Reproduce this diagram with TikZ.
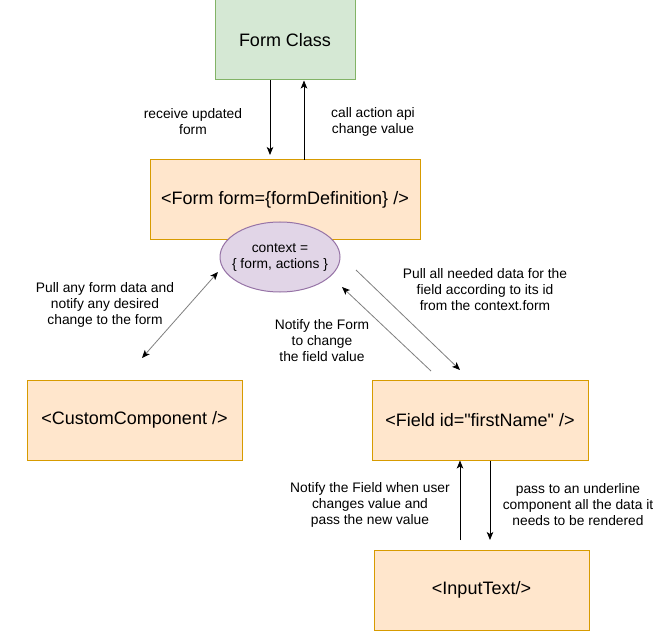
\documentclass[tikz,border=0pt]{standalone}
\usepackage{fontspec}
\setmainfont{Liberation Sans}[Ligatures=TeXOff]
\usetikzlibrary{shapes.geometric,arrows.meta}
\definecolor{gfill}{HTML}{D5E8D4}
\definecolor{gline}{HTML}{82B366}
\definecolor{ofill}{HTML}{FFE6CC}
\definecolor{oline}{HTML}{D79B00}
\definecolor{pfill}{HTML}{E1D5E7}
\definecolor{pline}{HTML}{9673A6}
\definecolor{diag}{HTML}{7F7F7F}
\tikzset{
  box/.style={draw=#1, line width=1pt, minimum width=215pt, minimum height=80pt, inner sep=0pt,
    font=\fontsize{18}{21}\selectfont},
  lbl/.style={align=center, inner sep=0pt, font=\fontsize{13.8}{16}\selectfont},
  tip/.style={-{Stealth[length=8pt,width=6.5pt,inset=2pt,black]}},
  conn/.style={tip, line width=0.9pt, black},
  dconn/.style={line width=0.8pt, draw=diag},
}
\begin{document}
\begin{tikzpicture}[x=1pt,y=-1pt]
\useasboundingbox (0,0) rectangle (664,631);
% boxes
\node[box=gline, fill=gfill, minimum width=140pt] (fc) at (285,40) {Form Class};
\node[box=oline, fill=ofill, minimum width=270pt] (form) at (285,200) {<Form form=\{formDefinition\} />};
\node[ellipse, draw=pline, fill=pfill, line width=1pt, minimum width=120pt, minimum height=70pt, inner sep=0pt,
  label={[lbl]center:context =\\\{ form, actions \}}] (ctx) at (280,257) {};
\node[box=oline, fill=ofill] (cc) at (134.5,420) {<CustomComponent />};
\node[box=oline, fill=ofill, minimum width=216pt] (field) at (480,420) {<Field id="firstName" />};
\node[box=oline, fill=ofill] (input) at (481.5,590) {<InputText/>};
% coordinates
\coordinate (d1) at (270,155);
\coordinate (u1) at (304,160);
\coordinate (cA) at (142,358);
\coordinate (cB) at (218,272);
\coordinate (fA) at (356,270);
\coordinate (fB) at (460,370);
\coordinate (gA) at (431,371);
\coordinate (gB) at (342,287);
\coordinate (iU) at (460,540);
\coordinate (iD) at (490,470);
\coordinate (iE) at (490,540);
% connectors
\draw[conn] (fc.south -| d1) -- (d1);
\draw[conn] (u1) -- (fc.south -| u1);
\draw[dconn, {Stealth[length=8pt,width=6.5pt,inset=2pt,black]}-{Stealth[length=8pt,width=6.5pt,inset=2pt,black]}] (cA) -- (cB);
\draw[dconn, tip] (fA) -- (fB);
\draw[dconn, tip] (gA) -- (gB);
\draw[conn] (iU) -- (field.south -| iU);
\draw[conn] (field.south -| iD) -- (iE);
% labels
\node[lbl] (l1) at (193,122) {receive updated\\form};
\node[lbl] (l2) at (373,122) {call action api\\change value};
\node[lbl] (l3) at (105,305) {Pull any form data and\\notify any desired\\change to the form};
\node[lbl] (l4) at (485,290) {Pull all needed data for the\\field according to its id\\from the context.form};
\node[lbl] (l5) at (322,341) {Notify the Form\\to change\\the field value};
\node[lbl] (l6) at (370,505) {Notify the Field when user\\changes value and\\pass the new value};
\node[lbl] (l7) at (578,505) {pass to an underline\\component all the data it\\needs to be rendered};
\end{tikzpicture}
\end{document}
